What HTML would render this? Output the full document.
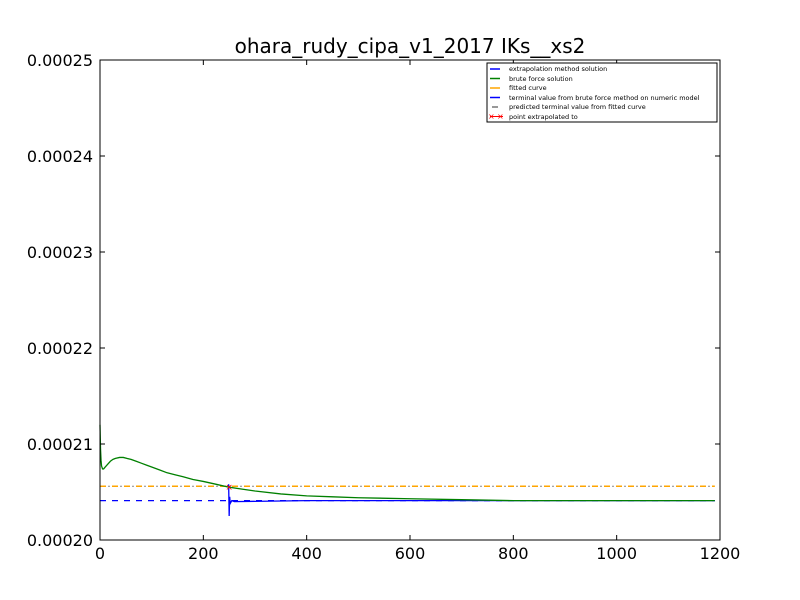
<!DOCTYPE html>
<html><head><meta charset="utf-8"><style>
body{margin:0;background:#fff;}
svg{display:block;font-family:"DejaVu Sans","Liberation Sans",sans-serif;}
</style></head><body>
<svg id="chart" width="800" height="600">
<rect width="800" height="600" fill="#fff"/>
<text x="410" y="53" text-anchor="middle" font-size="20">ohara_rudy_cipa_v1_2017 IKs__xs2</text>
<g id="plot"></g>
<rect x="100" y="60" width="620" height="480" fill="none" stroke="#000" stroke-width="1"/>
<g id="axes"></g>
<g>
<rect x="487" y="63" width="230" height="59" fill="#fff" stroke="#000"/>
<g font-size="6.5">
<line x1="490" y1="69" x2="500" y2="69" stroke="#0000ff" stroke-width="1.5"/><text x="509" y="71">extrapolation method solution</text>
<line x1="490" y1="78.5" x2="500" y2="78.5" stroke="#008000" stroke-width="1.5"/><text x="509" y="81">brute force solution</text>
<line x1="490" y1="88" x2="500" y2="88" stroke="#ffa500" stroke-width="1.5"/><text x="509" y="90">fitted curve</text>
<line x1="490" y1="97.5" x2="500" y2="97.5" stroke="#0000ff" stroke-width="1.5"/><text x="509" y="100">terminal value from brute force method on numeric model</text>
<line x1="492" y1="107" x2="498" y2="107" stroke="#777" stroke-width="1.5"/><text x="509" y="109">predicted terminal value from fitted curve</text>
<line x1="490" y1="116.5" x2="503" y2="116.5" stroke="#f00"/><text x="488" y="119" fill="#f00" font-size="8">×</text><text x="497" y="119" fill="#f00" font-size="8">×</text><text x="509" y="119">point extrapolated to</text>
</g></g>
</svg>
<script>
const xTicks=[0,200,400,600,800,1000,1200];
const yTicks=[0.00020,0.00021,0.00022,0.00023,0.00024,0.00025];
const bruteX=[0,1,2,3,5,7,10,15,20,25,30,38,45,52,60,70,80,90,100,115,130,145,160,180,200,225,250,275,300,350,400,450,500,600,700,800,1000,1190];
const bruteY=[0.000212,0.0002095,0.0002083,0.0002077,0.0002074,0.0002074,0.0002076,0.0002079,0.0002082,0.0002084,0.0002085,0.0002086,0.0002086,0.0002085,0.0002084,0.0002082,0.0002080,0.0002078,0.0002076,0.0002073,0.0002070,0.0002068,0.0002066,0.0002063,0.0002061,0.0002058,0.0002055,0.0002053,0.0002051,0.0002048,0.0002046,0.0002045,0.0002044,0.0002043,0.0002042,0.0002041,0.0002041,0.0002041];
const extrapX=[248,249,250,251,252,255,260,400,600,800,1000,1190];
const extrapY=[0.0002055,0.0002058,0.0002025,0.0002045,0.0002038,0.0002041,0.0002040,0.0002041,0.0002041,0.0002041,0.0002041,0.0002041];
const terminalBrute=0.0002041;
const terminalFitted=0.0002056;
const pointX=[250], pointY=[0.0002055];
const X=v=>100+(v-0)/1200*620;
const Y=v=>540-(v-0.0002)/0.00005*480;
const NS="http://www.w3.org/2000/svg";
const plot=document.getElementById('plot'),axes=document.getElementById('axes');
function mk(tag,at,parent){const e=document.createElementNS(NS,tag);for(const k in at)e.setAttribute(k,at[k]);parent.appendChild(e);return e;}
let l=mk('line',{x1:X(0),x2:X(1190),y1:Y(terminalFitted),y2:Y(terminalFitted),stroke:'#ffa500','stroke-width':1.5,'stroke-dasharray':'6,6'},plot);


l=mk('line',{x1:X(0),x2:X(1190),y1:Y(terminalFitted),y2:Y(terminalFitted),stroke:'#888','stroke-width':1,'stroke-dasharray':'2,10','stroke-dashoffset':-8},plot);


l=mk('line',{x1:X(0),x2:X(1190),y1:Y(terminalBrute),y2:Y(terminalBrute),stroke:'#0000ff','stroke-width':1.2,'stroke-dasharray':'6,6'},plot);


l=mk('polyline',{points:extrapX.map((x,i)=>X(x)+','+Y(extrapY[i])).join(' '),fill:'none',stroke:'#0000ff','stroke-width':1.3},plot);


l=mk('polyline',{points:bruteX.map((x,i)=>X(x)+','+Y(bruteY[i])).join(' '),fill:'none',stroke:'#008000','stroke-width':1.3,'stroke-linejoin':'round'},plot);


pointX.forEach((x,i)=>{const t=mk('text',{x:X(x),y:Y(pointY[i])+3,fill:'#f00','font-size':9,'text-anchor':'middle'},plot);t.textContent='×';

});
xTicks.forEach(v=>{const x=X(v);mk('line',{x1:x,x2:x,y1:540,y2:535,stroke:'#000'},axes);mk('line',{x1:x,x2:x,y1:60,y2:65,stroke:'#000'},axes);
const t=mk('text',{x:x,y:559,'font-size':16,'text-anchor':'middle'},axes);t.textContent=v;

});
yTicks.forEach(v=>{const y=Y(v);mk('line',{x1:100,x2:105,y1:y,y2:y,stroke:'#000'},axes);mk('line',{x1:715,x2:720,y1:y,y2:y,stroke:'#000'},axes);
const t=mk('text',{x:93,y:y+6,'font-size':16,'text-anchor':'end'},axes);t.textContent=v.toFixed(5);

});
</script>
</body></html>
